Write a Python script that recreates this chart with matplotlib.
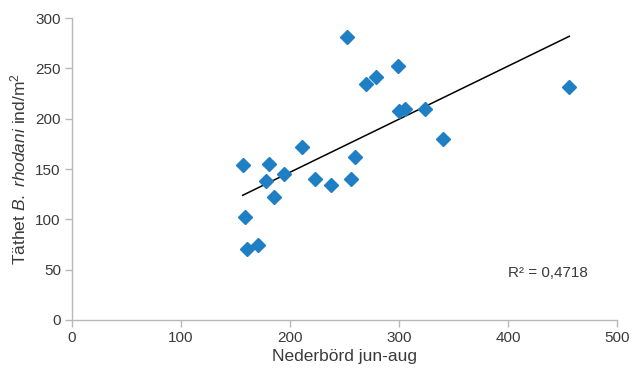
import numpy as np
import matplotlib
matplotlib.use("Agg")
import matplotlib.pyplot as plt

plt.rcParams['font.family'] = ['Liberation Sans', 'DejaVu Sans']
plt.rcParams['mathtext.fontset'] = 'custom'
plt.rcParams['mathtext.rm'] = 'Liberation Sans'
plt.rcParams['mathtext.it'] = 'Liberation Sans:italic'

# Data
nederbord = [156.6, 180.7, 177.7, 194.5, 185.3, 211.3, 159.0, 160.2, 170.3,
             222.9, 237.6, 255.7, 259.6, 252.3, 269.7, 278.9, 299.4, 300.3,
             305.5, 323.9, 340.1, 456.3]
tathet = [153.6, 155.0, 138.4, 145.3, 121.9, 171.5, 102.3, 70.5, 74.2,
          139.8, 134.1, 139.8, 162.2, 280.8, 234.1, 241.7, 252.0, 207.9,
          209.3, 209.3, 179.8, 231.2]
x_ticks = [0, 100, 200, 300, 400, 500]
y_ticks = [0, 50, 100, 150, 200, 250, 300]
r2_label = "R² = 0,4718"

x = np.array(nederbord)
y = np.array(tathet)
slope, intercept = np.polyfit(x, y, 1)
xl = np.array([x.min(), x.max()])

fig = plt.figure(figsize=(6.33, 3.73), dpi=100)
ax = fig.add_axes([0.1137, 0.1421, 0.8610, 0.8096])

ax.plot(x, y, linestyle='none', marker='D', markersize=7.6,
        color='#1f7fc4', markeredgecolor='#1f7fc4', zorder=3)
ax.plot(xl, slope * xl + intercept, color='black', linewidth=1.1, zorder=2)

ax.set_xlim(0, 500)
ax.set_ylim(0, 300)
ax.set_xticks(x_ticks)
ax.set_yticks(y_ticks)

for s in ['top', 'right']:
    ax.spines[s].set_visible(False)
for s in ['left', 'bottom']:
    ax.spines[s].set_color('#b8b8b8')
    ax.spines[s].set_linewidth(1.0)
ax.tick_params(axis='both', direction='out', length=5, width=1.0,
               color='#b8b8b8', labelsize=11, labelcolor='#3a3a3a', pad=3)

ax.set_xlabel("Nederbörd jun-aug", fontsize=12.5, color='#3a3a3a', labelpad=3)
ax.set_ylabel(r"Täthet $\mathit{B.}$ $\mathit{rhodani}$ ind/m$^{2}$", fontsize=12.5,
              color='#3a3a3a', labelpad=5)

ax.text(400, 47, r2_label, fontsize=11, color='#3a3a3a', ha='left', va='center')

fig.savefig("out.png", dpi=100)
